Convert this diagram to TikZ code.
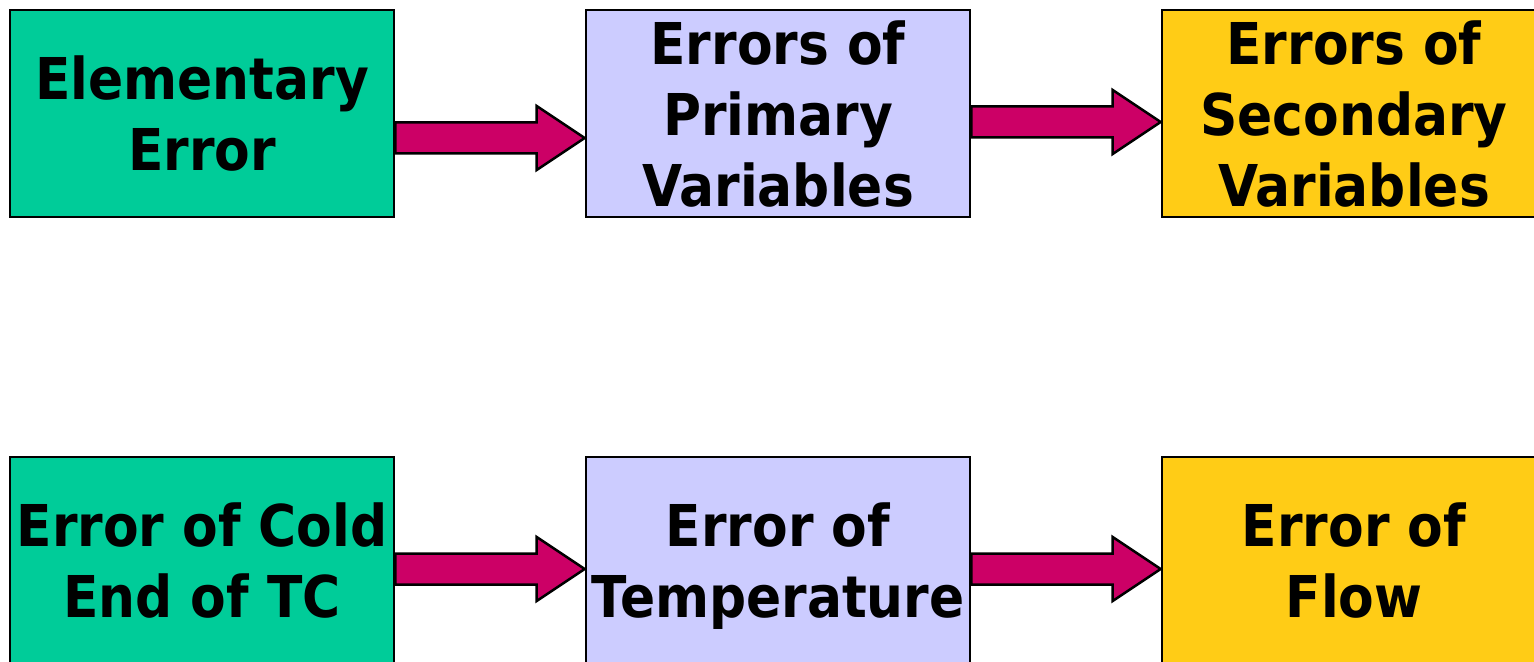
\documentclass[tikz,border=0pt]{standalone}
\usepackage{fontspec}
\newfontfamily\boxfont{DejaVu Sans}[FakeStretch=0.9]
\usepackage{tikz}
\usetikzlibrary{calc}
\definecolor{errgreen}{HTML}{00CC99}
\definecolor{errlilac}{HTML}{CCCCFF}
\definecolor{erryellow}{HTML}{FFCC16}
\definecolor{arrowred}{HTML}{CC0066}
\tikzset{
  errbox/.style={draw, line width=0.055cm, minimum width=7.68cm, minimum height=4.14cm,
    inner sep=0pt, align=center, text depth=0pt,
    font=\boxfont\bfseries\fontsize{32.8}{40.4}\selectfont},
  primbox/.style={errbox, fill=errgreen},
  varbox/.style={errbox, fill=errlilac},
  secbox/.style={errbox, fill=erryellow},
  blockarrow/.style={draw, line width=0.05cm, fill=arrowred, line join=miter}
}
% block arrow from #1 to #2, tip shifted down by #3 (px)
\newcommand{\blockflow}[3]{%
  \draw[blockarrow] ($(#1.east)+(0,#3-15.5)$) -- ($(#2.west)+(-48,#3-15.5)$)
    -- ($(#2.west)+(-48,#3-32)$) -- ($(#2.west)+(0,#3)$)
    -- ($(#2.west)+(-48,#3+32)$) -- ($(#2.west)+(-48,#3+15.5)$)
    -- ($(#1.east)+(0,#3+15.5)$) -- cycle;}
\begin{document}
\begin{tikzpicture}[x=0.02cm, y=-0.02cm]
  \useasboundingbox (0,0) rectangle (1534,662);
  \clip (0,0) rectangle (1534,662);
  % general chain
  \node[primbox] (elem) at (202,113.5) {Elementary\\Error};
  \node[varbox] (prim) at (778,113.5) {Errors of\\Primary\\Variables};
  \node[secbox] (sec) at (1354,113.5) {Errors of\\Secondary\\Variables};
  \blockflow{elem}{prim}{24.5}
  \blockflow{prim}{sec}{8.5}
  % example chain
  \node[primbox] (cold) at (202,560.5) {Error of Cold\\End of TC};
  \node[varbox] (temp) at (778,560.5) {Error of\\Temperature};
  \node[secbox] (flow) at (1354,560.5) {Error of\\Flow};
  \blockflow{cold}{temp}{8.5}
  \blockflow{temp}{flow}{8.5}
\end{tikzpicture}
\end{document}
